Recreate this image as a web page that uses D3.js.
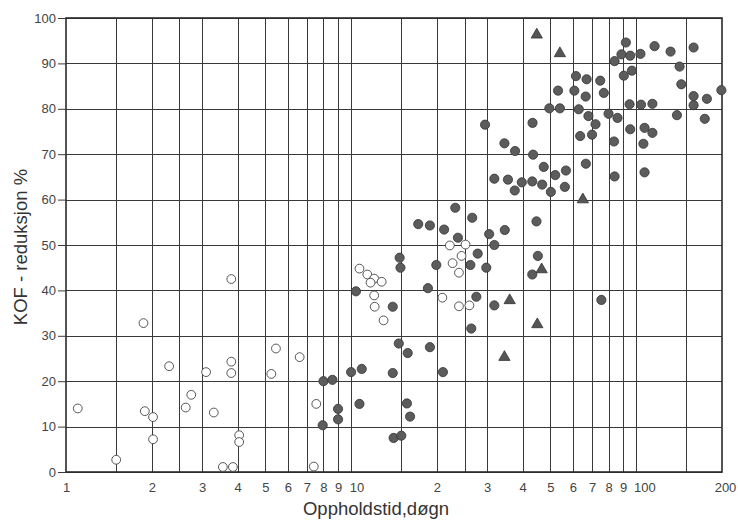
<!DOCTYPE html>
<html>
<head>
<meta charset="utf-8">
<script src="https://cdn.jsdelivr.net/npm/d3@7"></script>
<style>
  body { margin: 0; background: #fff; }
  svg { display: block; font-family: "Liberation Sans", Arial, sans-serif; }
</style>
</head>
<body>
<svg id="chart" width="738" height="522"></svg>
<script>
// open circles: [days, %]
var openPts = [
    [1.1, 14], [1.5, 2.7], [1.87, 32.8], [1.89, 13.4], [2.02, 12.1], [2.02, 7.2],
    [2.3, 23.3], [2.63, 14.2], [2.75, 17], [3.1, 22], [3.3, 13.1], [3.55, 1.1],
    [3.8, 42.5], [3.8, 24.3], [3.8, 21.8], [3.85, 1.1], [4.05, 8.1], [4.05, 6.6],
    [5.25, 21.6], [5.45, 27.2], [6.6, 25.3], [7.55, 15], [7.4, 1.2],
    [10.7, 44.8], [11.4, 43.5], [12.05, 42.6], [11.7, 41.7], [12.8, 41.9],
    [12.05, 38.9], [12.1, 36.4], [13.0, 33.4],
    [22.2, 49.9], [25.2, 50.1], [24.4, 47.6], [22.7, 46.0], [23.9, 43.9],
    [20.9, 38.4], [23.9, 36.5], [26.0, 36.7]
];

// filled circles
var filledPts = [
    [8.0, 20.0], [8.6, 20.3], [9.0, 13.9], [9.0, 11.6], [7.95, 10.3],
    [10.0, 22.0], [10.9, 22.7], [10.7, 15.0], [10.4, 39.8],
    [14.0, 36.4], [14.8, 47.2], [14.9, 45.0], [14.7, 28.3], [15.8, 26.2], [18.9, 27.5],
    [14.0, 21.8], [21.0, 22.0], [15.7, 15.1], [16.1, 12.2], [14.1, 7.5], [15.0, 8.0],
    [19.9, 45.6], [26.2, 45.6], [29.8, 45.0], [18.6, 40.5], [27.5, 38.6], [31.8, 36.7],
    [26.4, 31.6], [43.2, 43.5], [75.5, 37.9],
    [23.2, 58.2], [26.6, 56.0], [17.2, 54.6], [18.9, 54.3], [21.2, 53.4], [23.7, 51.6],
    [27.8, 48.1], [30.5, 52.4], [31.8, 50.0], [34.6, 53.3], [44.7, 55.2], [45.2, 47.6],
    [29.5, 76.5], [43.3, 76.9], [34.5, 72.4], [37.6, 70.7], [43.5, 69.9], [47.4, 67.2],
    [52, 65.4], [56.7, 66.4], [31.8, 64.6], [35.5, 64.4], [39.7, 63.8], [43.2, 64.0],
    [46.8, 63.3], [50.2, 61.7], [56.2, 62.8], [37.5, 62.0],
    [61.5, 87.2], [67, 86.5], [74.8, 86.2], [53.2, 84.0], [60.7, 84.0], [66.5, 82.7],
    [77, 83.5], [49.6, 80.1], [54, 80.1], [62.9, 79.9], [68, 78.4], [72, 76.6],
    [80, 78.9], [86, 78.0], [63.6, 74.0], [70, 74.3], [83.6, 72.8], [95.3, 75.5],
    [107, 75.8], [114, 74.7], [106, 72.3], [94.8, 81], [104, 80.9], [114, 81.1],
    [139, 78.6], [174, 77.8], [159, 82.8], [159, 80.8], [177, 82.2], [199, 84.1],
    [144, 85.4], [142, 89.3], [90.5, 87.3], [96.6, 88.4], [84, 90.5], [88.8, 92],
    [95.3, 91.7], [103.5, 92.1], [92, 94.6], [116, 93.8], [132, 92.6], [159, 93.5],
    [66.6, 67.9], [84, 65.1], [107, 66]
];

// triangles
var trianglePts = [
    [44.8, 96.3], [54, 92.2], [65, 60], [46.6, 44.6], [36, 37.8], [45, 32.5], [34.5, 25.3]
];

var xGrid = [1.5, 2, 2.5, 3, 4, 5, 6, 7, 8, 9, 10, 15, 20, 25, 30, 40, 50, 60, 70, 80, 90, 100, 150];
var xTicks = [1, 2, 3, 4, 5, 6, 7, 8, 9, 10, 20, 30, 40, 50, 60, 70, 80, 90, 100, 200];
var xTickLabels = ["1", "2", "3", "4", "5", "6", "7", "8", "9", "10", "2", "3", "4", "5", "6", "7", "8", "9", "100", "200"];
var yTicks = [0, 10, 20, 30, 40, 50, 60, 70, 80, 90, 100];

var xTitle = "Oppholdstid,døgn";
var yTitle = "KOF - reduksjon %";

window.onload = function() {
    drawChart();
};

function drawChart() {
    var svg = d3.select("#chart");
    var left = 66, right = 722, top = 18, bottom = 472;

    var x = d3.scaleLog().domain([1, 200]).range([left, right]);
    var y = d3.scaleLinear().domain([0, 100]).range([bottom, top]);

    // grid lines
    var grid = svg.append("g").attr("stroke", "#3a3a3a").attr("stroke-width", 1);
    grid.selectAll("line.v")
        .data(xGrid)
        .enter().append("line")
        .attr("x1", function(d) { return Math.round(x(d)) + 0.5; })
        .attr("x2", function(d) { return Math.round(x(d)) + 0.5; })
        .attr("y1", top)
        .attr("y2", bottom);
    grid.selectAll("line.h")
        .data(yTicks)
        .enter().append("line")
        .attr("x1", left)
        .attr("x2", right)
        .attr("y1", function(d) { return Math.round(y(d)) + 0.5; })
        .attr("y2", function(d) { return Math.round(y(d)) + 0.5; });

    // frame
    svg.append("rect")
        .attr("x", left).attr("y", top)
        .attr("width", right - left).attr("height", bottom - top)
        .attr("fill", "none").attr("stroke", "#2a2a2a").attr("stroke-width", 1.6);

    // y axis
    var yAxis = svg.append("g")
        .attr("transform", "translate(" + left + ",0)")
        .call(d3.axisLeft(y).tickValues(yTicks).tickSize(8).tickPadding(2));
    yAxis.select(".domain").remove();
    yAxis.selectAll("line").attr("stroke", "#3a3a3a");
    yAxis.selectAll("text")
        .attr("fill", "#444").attr("font-size", 13)
        .attr("font-family", "Liberation Sans, Arial, sans-serif");

    // x axis
    var xAxis = svg.append("g")
        .attr("transform", "translate(0," + bottom + ")")
        .call(d3.axisBottom(x).tickValues(xTicks)
            .tickFormat(function(d, i) { return xTickLabels[i]; })
            .tickSize(0).tickPadding(11));
    xAxis.select(".domain").remove();
    xAxis.selectAll("text")
        .attr("fill", "#444").attr("font-size", 13)
        .attr("font-family", "Liberation Sans, Arial, sans-serif")
        .attr("dx", function(d, i) {
            var s = xTickLabels[i];
            if (s === "200") return 3;
            if (s.length > 1) return s.length * 2.7;
            return 0;
        });

    // titles
    svg.append("text")
        .attr("x", 376).attr("y", 515)
        .attr("text-anchor", "middle")
        .attr("font-size", 18.5).attr("fill", "#333")
        .text(xTitle);
    svg.append("text")
        .attr("transform", "translate(27,247) rotate(-90)")
        .attr("text-anchor", "middle")
        .attr("font-size", 18.5).attr("fill", "#333")
        .text(yTitle);

    // open circles
    svg.append("g").selectAll("circle")
        .data(openPts)
        .enter().append("circle")
        .attr("cx", function(d) { return x(d[0]); })
        .attr("cy", function(d) { return y(d[1]); })
        .attr("r", 4.4)
        .attr("fill", "#fff")
        .attr("stroke", "#444")
        .attr("stroke-width", 0.9);

    // filled circles
    svg.append("g").selectAll("circle")
        .data(filledPts)
        .enter().append("circle")
        .attr("cx", function(d) { return x(d[0]); })
        .attr("cy", function(d) { return y(d[1]); })
        .attr("r", 4.6)
        .attr("fill", "#5c5c5c")
        .attr("stroke", "#333")
        .attr("stroke-width", 0.8);

    // triangles
    svg.append("g").selectAll("path")
        .data(trianglePts)
        .enter().append("path")
        .attr("d", d3.symbol().type(d3.symbolTriangle).size(55))
        .attr("transform", function(d) { return "translate(" + x(d[0]) + "," + y(d[1]) + ")"; })
        .attr("fill", "#555")
        .attr("stroke", "#333")
        .attr("stroke-width", 0.8);
}
</script>
</body>
</html>
